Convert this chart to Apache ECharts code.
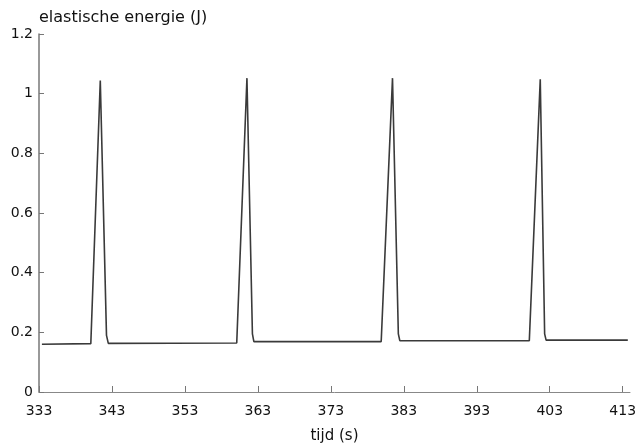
<!DOCTYPE html>
<html>
<head>
<meta charset="utf-8">
<script src="https://cdn.jsdelivr.net/npm/echarts@6/dist/echarts.min.js"></script>
<style>
  html, body { margin: 0; padding: 0; background: #fff; }
  #chart { width: 638px; height: 443px; }
</style>
</head>
<body>
<div id="chart"></div>
<script>
// tijd (s) en elastische energie (J)
const tijd = [333.4, 340.1, 341.4, 342.25, 342.5, 360.1, 361.5, 362.25, 362.45, 379.9, 381.45, 382.25, 382.45, 400.2, 401.7, 402.3, 402.5, 413.7];
const energie = [0.160, 0.162, 1.044, 0.19, 0.163, 0.164, 1.052, 0.195, 0.169, 0.169, 1.052, 0.195, 0.172, 0.172, 1.048, 0.195, 0.174, 0.174];
const xTicks = [333, 343, 353, 363, 373, 383, 393, 403, 413];

const points = tijd.map((t, i) => [t, energie[i]]);
const font = 'DejaVu Sans';

const chart = echarts.init(document.getElementById('chart'));
chart.setOption({
    animation: false,
    grid: { left: 39, right: 8, top: 34, bottom: 51, outerBoundsMode: 'none' },
    xAxis: {
        type: 'value',
        min: 333,
        max: 414,
        name: 'tijd (s)',
        nameLocation: 'middle',
        nameGap: 37,
        nameTextStyle: { fontFamily: font, fontSize: 15, color: '#111' },
        axisLine: { lineStyle: { color: '#888', width: 1 } },
        axisTick: { inside: true, length: 6, lineStyle: { color: '#777' }, customValues: xTicks },
        axisLabel: {
            customValues: xTicks,
            margin: 12,
            fontFamily: font,
            fontSize: 14,
            color: '#111'
        },
        splitLine: { show: false }
    },
    yAxis: {
        type: 'value',
        min: 0,
        max: 1.2,
        interval: 0.2,
        name: 'elastische energie (J)',
        nameLocation: 'end',
        nameGap: 8,
        nameTextStyle: { fontFamily: font, fontSize: 16, color: '#111', align: 'left' },
        axisLine: { show: true, lineStyle: { color: '#777', width: 1.5 } },
        axisTick: { show: true, inside: true, length: 5, lineStyle: { color: '#777' } },
        axisLabel: {
            margin: 6,
            fontFamily: font,
            fontSize: 14,
            color: '#111',
            formatter: v => String(Math.round(v * 10) / 10)
        },
        splitLine: { show: false }
    },
    series: [{
        type: 'line',
        data: points,
        symbol: 'none',
        lineStyle: { color: '#3a3a3a', width: 1.6 }
    }]
});
</script>
</body>
</html>
